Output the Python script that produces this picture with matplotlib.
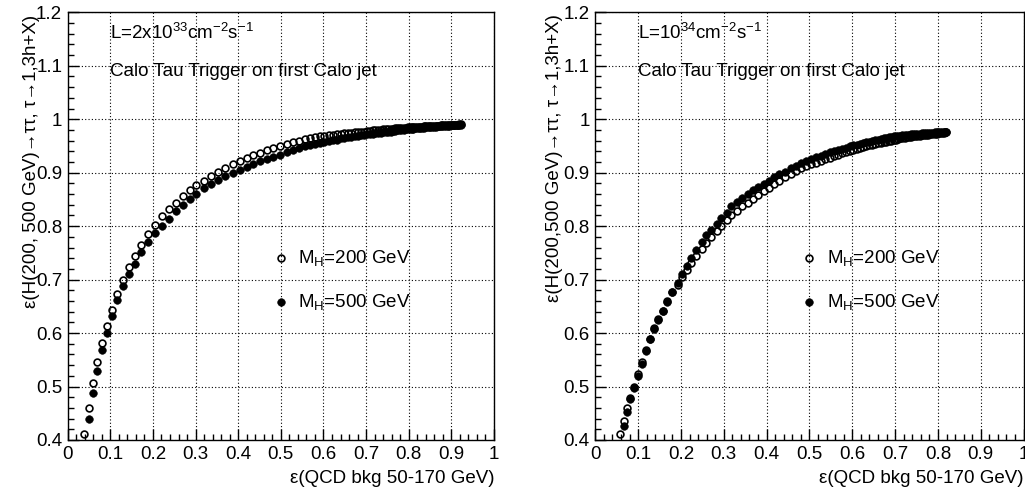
import numpy as np
import matplotlib
matplotlib.use("Agg")
import matplotlib.pyplot as plt
from matplotlib.ticker import MultipleLocator

plt.rcParams['font.family'] = ['Liberation Sans', 'DejaVu Sans']
plt.rcParams['mathtext.fontset'] = 'custom'
plt.rcParams['mathtext.rm'] = 'Liberation Sans'
plt.rcParams['mathtext.it'] = 'Liberation Sans'
plt.rcParams['mathtext.default'] = 'regular'

nan = float('nan')

# ---------------- left panel data (L = 2x10^33) ----------------
x_left = [0.039, 0.049, 0.0586, 0.068, 0.0797, 0.0914, 0.1047, 0.1164, 0.130, 0.1438,
          0.1586, 0.1727, 0.188, 0.2047, 0.222, 0.2375, 0.253, 0.2695, 0.286, 0.302,
          0.3195, 0.336, 0.353, 0.370, 0.387, 0.404, 0.4195, 0.435, 0.451, 0.467,
          0.482, 0.498, 0.514, 0.529, 0.543, 0.556, 0.568, 0.580, 0.591, 0.602,
          0.612, 0.622, 0.631, 0.640, 0.649, 0.657, 0.665, 0.673, 0.681, 0.688,
          0.695, 0.702, 0.709, 0.716, 0.722, 0.728, 0.734, 0.740, 0.746, 0.752,
          0.758, 0.763, 0.768, 0.773, 0.778, 0.783, 0.788, 0.793, 0.798, 0.803,
          0.807, 0.811, 0.815, 0.819, 0.823, 0.827, 0.831, 0.835, 0.839, 0.843,
          0.847, 0.851, 0.855, 0.859, 0.863, 0.867, 0.871, 0.875, 0.879, 0.883,
          0.887, 0.891, 0.895, 0.899, 0.903, 0.907, 0.911, 0.915, 0.919, 0.922]
y_left_200 = [0.411, 0.459, 0.506, 0.546, 0.581, 0.614, 0.644, 0.674, 0.700, 0.724,
              0.744, 0.764, 0.785, 0.802, 0.819, 0.832, 0.844, 0.857, 0.867, 0.877,
              0.885, 0.894, 0.902, 0.909, 0.916, 0.922, 0.927, 0.933, 0.937, 0.942,
              0.946, 0.950, 0.954, 0.957, 0.960, 0.963, 0.965, 0.967, 0.968, 0.969,
              0.970, 0.971, 0.972, 0.973, 0.974, 0.975, 0.975, 0.976, 0.976, 0.977,
              0.977, 0.978, 0.978, 0.979, 0.979, 0.980, 0.980, 0.981, 0.981, 0.982,
              0.982, 0.982, 0.983, 0.983, 0.983, 0.984, 0.984, 0.984, 0.985, 0.985,
              0.985, 0.985, 0.986, 0.986, 0.986, 0.986, 0.986, 0.987, 0.987, 0.987,
              0.987, 0.987, 0.988, 0.988, 0.988, 0.988, 0.988, 0.989, 0.989, 0.989,
              0.989, 0.989, 0.989, 0.990, 0.990, 0.990, 0.990, 0.990, 0.991, 0.991]
y_left_500 = [nan, 0.440, 0.487, 0.529, 0.568, 0.601, 0.632, 0.661, 0.688, 0.710,
              0.730, 0.751, 0.770, 0.787, 0.801, 0.814, 0.828, 0.839, 0.851, 0.861,
              0.871, 0.879, 0.886, 0.893, 0.899, 0.905, 0.911, 0.916, 0.921, 0.925,
              0.929, 0.934, 0.938, 0.942, 0.946, 0.949, 0.951, 0.953, 0.955, 0.957,
              0.959, 0.961, 0.962, 0.964, 0.965, 0.966, 0.967, 0.968, 0.969, 0.970,
              0.971, 0.972, 0.973, 0.973, 0.974, 0.975, 0.975, 0.976, 0.976, 0.977,
              0.977, 0.978, 0.978, 0.979, 0.979, 0.980, 0.980, 0.981, 0.981, 0.982,
              0.982, 0.982, 0.983, 0.983, 0.983, 0.984, 0.984, 0.984, 0.985, 0.985,
              0.985, 0.985, 0.986, 0.986, 0.986, 0.987, 0.987, 0.987, 0.987, 0.988,
              0.988, 0.988, 0.988, 0.989, 0.989, 0.989, 0.989, 0.990, 0.990, 0.990]

# ---------------- right panel data (L = 10^34) ----------------
x_right = [0.0585, 0.067, 0.074, 0.081, 0.090, 0.0998, 0.109, 0.1185, 0.128, 0.137,
           0.1465, 0.157, 0.168, 0.179, 0.192, 0.203, 0.2145, 0.2245, 0.236, 0.248,
           0.2595, 0.271, 0.284, 0.2946, 0.307, 0.318, 0.331, 0.343, 0.3555, 0.368,
           0.380, 0.394, 0.405, 0.418, 0.430, 0.443, 0.456, 0.468, 0.480, 0.4926,
           0.504, 0.515, 0.526, 0.537, 0.547, 0.557, 0.567, 0.576, 0.585, 0.594,
           0.602, 0.610, 0.618, 0.626, 0.633, 0.640, 0.647, 0.654, 0.661, 0.667,
           0.673, 0.679, 0.685, 0.691, 0.697, 0.702, 0.707, 0.712, 0.717, 0.722,
           0.727, 0.732, 0.737, 0.742, 0.747, 0.752, 0.757, 0.762, 0.767, 0.772,
           0.777, 0.782, 0.787, 0.792, 0.797, 0.801, 0.805, 0.809, 0.813, 0.816, 0.818]
y_right_200 = [0.411, 0.436, 0.459, 0.479, 0.500, 0.523, 0.546, 0.568, 0.589, 0.609,
               0.626, 0.642, 0.660, 0.676, 0.690, 0.705, 0.718, 0.731, 0.745, 0.757,
               0.768, 0.779, 0.790, 0.800, 0.811, 0.821, 0.829, 0.837, 0.844, 0.851,
               0.858, 0.866, 0.872, 0.878, 0.885, 0.891, 0.897, 0.903, 0.908, 0.912,
               0.916, 0.919, 0.922, 0.925, 0.928, 0.931, 0.934, 0.936, 0.938, 0.940,
               0.942, 0.944, 0.946, 0.948, 0.949, 0.951, 0.952, 0.954, 0.955, 0.956,
               0.957, 0.958, 0.959, 0.960, 0.961, 0.962, 0.963, 0.964, 0.964, 0.965,
               0.966, 0.966, 0.967, 0.968, 0.968, 0.969, 0.969, 0.970, 0.970, 0.971,
               0.971, 0.972, 0.972, 0.973, 0.973, 0.974, 0.974, 0.975, 0.975, 0.976, 0.976]
y_right_500 = [nan, 0.426, 0.452, 0.476, 0.498, 0.520, 0.542, 0.567, 0.588, 0.608,
               0.625, 0.641, 0.659, 0.676, 0.694, 0.710, 0.725, 0.740, 0.756, 0.771,
               0.783, 0.793, 0.804, 0.815, 0.825, 0.837, 0.845, 0.852, 0.860, 0.867,
               0.874, 0.879, 0.885, 0.891, 0.897, 0.902, 0.908, 0.913, 0.918, 0.922,
               0.926, 0.929, 0.932, 0.935, 0.938, 0.941, 0.943, 0.945, 0.947, 0.949,
               0.951, 0.952, 0.954, 0.955, 0.957, 0.958, 0.960, 0.961, 0.962, 0.963,
               0.964, 0.965, 0.966, 0.967, 0.968, 0.968, 0.969, 0.969, 0.970, 0.970,
               0.971, 0.971, 0.972, 0.972, 0.972, 0.973, 0.973, 0.974, 0.974, 0.974,
               0.975, 0.975, 0.975, 0.976, 0.976, 0.976, 0.976, 0.977, 0.977, 0.977, 0.977]

x_ticks = [0, 0.1, 0.2, 0.3, 0.4, 0.5, 0.6, 0.7, 0.8, 0.9, 1]
x_tick_labels = ['0', '0.1', '0.2', '0.3', '0.4', '0.5', '0.6', '0.7', '0.8', '0.9', '1']
y_ticks = [0.4, 0.5, 0.6, 0.7, 0.8, 0.9, 1.0, 1.1, 1.2]
y_tick_labels = ['0.4', '0.5', '0.6', '0.7', '0.8', '0.9', '1', '1.1', '1.2']

legend_labels = ['M$_{H}$=200 GeV', 'M$_{H}$=500 GeV']
x_title = 'ε(QCD bkg 50-170 GeV)'
y_titles = ['ε(H(200, 500 GeV)→ττ, τ→1,3h+X)', 'ε(H(200,500 GeV)→ττ, τ→1,3h+X)']
lumi_texts = ['L=2x10$^{33}$cm$^{-2}$s$^{-1}$', 'L=10$^{34}$cm$^{-2}$s$^{-1}$']
trigger_text = 'Calo Tau Trigger on first Calo jet'

FS = 13.5
W, H = 1025, 496
fig = plt.figure(figsize=(W / 100, H / 100), dpi=100)
ax_l = fig.add_axes([67.7 / W, 56 / H, 426.3 / W, 427.7 / H])
ax_r = fig.add_axes([595.3 / W, 56 / H, 428.3 / W, 427.7 / H])

panels = [
    (ax_l, x_left, y_left_200, y_left_500, 0, -0.084),
    (ax_r, x_right, y_right_200, y_right_500, 1, -0.095),
]

open_kw = dict(linestyle='none', marker='o', ms=4.9, mfc='none', mec='black', mew=1.2)
fill_kw = dict(linestyle='none', marker='o', ms=5.5, mfc='black', mec='black', mew=0.4)

for ax, xs, y200, y500, i, ylab_x in panels:
    ax.plot(xs, y200, **open_kw)
    ax.plot(xs, y500, **fill_kw)
    ax.set_xlim(0, 1)
    ax.set_ylim(0.4, 1.2)
    ax.set_xticks(x_ticks)
    ax.set_xticklabels(x_tick_labels)
    ax.set_yticks(y_ticks)
    ax.set_yticklabels(y_tick_labels)
    ax.xaxis.set_minor_locator(MultipleLocator(0.02))
    ax.yaxis.set_minor_locator(MultipleLocator(0.02))
    ax.tick_params(which='major', direction='in', length=8, width=1,
                   labelsize=FS, pad=4)
    ax.tick_params(which='minor', direction='in', length=4, width=1)
    ax.tick_params(top=False, right=False, which='both')
    ax.grid(True, which='major', linestyle=(0, (1, 2)), color='black', linewidth=0.8)
    for sp in ax.spines.values():
        sp.set_linewidth(1.0)

    ax.text(1.0, -0.091, x_title, transform=ax.transAxes, ha='right', va='center',
            fontsize=FS)
    ax.text(ylab_x, 0.995, y_titles[i], transform=ax.transAxes, rotation=90,
            ha='center', va='top', fontsize=FS)

    ax.text(0.10, 1.161, lumi_texts[i], ha='left', va='center', fontsize=FS)
    ax.text(0.10, 1.089, trigger_text, ha='left', va='center', fontsize=FS)

    # legend
    ax.plot([0.50], [0.740], **open_kw)
    ax.plot([0.50], [0.658], **fill_kw)
    ax.text(0.54, 0.740, legend_labels[0], ha='left', va='center', fontsize=FS)
    ax.text(0.54, 0.658, legend_labels[1], ha='left', va='center', fontsize=FS)

fig.savefig('out.png', dpi=100)
